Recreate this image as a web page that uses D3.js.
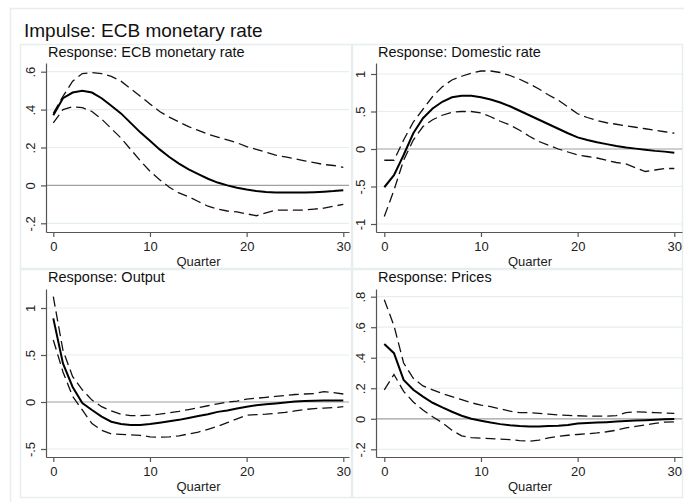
<!DOCTYPE html>
<html lang="en">
<head>
    <meta charset="UTF-8">
    <title>Impulse: ECB monetary rate</title>
    <style>
        body { margin: 0; background: #fff; }
        svg { display: block; font-family: "Liberation Sans", Arial, sans-serif; }
    </style>
</head>
<body>
    <div id="chart"></div>
    <script src="https://cdnjs.cloudflare.com/ajax/libs/d3/7.8.5/d3.min.js"></script>
    <script>
        // quarters after the impulse
        const quarters = [0,1,2,3,4,5,6,7,8,9,10,11,12,13,14,15,16,17,18,19,20,21,22,23,24,25,26,27,28,29,30];
        const xTicks = [0, 10, 20, 30];

        // Response: ECB monetary rate
        const ecbIrf = [0.37,0.46,0.49,0.50,0.49,0.46,0.42,0.38,0.33,0.28,0.235,0.19,0.15,0.115,0.085,0.06,0.035,0.015,0.0,-0.012,-0.022,-0.03,-0.035,-0.037,-0.038,-0.038,-0.038,-0.036,-0.033,-0.03,-0.025];
        const ecbHi  = [0.38,0.47,0.55,0.59,0.595,0.59,0.575,0.55,0.51,0.47,0.43,0.39,0.36,0.335,0.31,0.29,0.27,0.255,0.24,0.225,0.205,0.19,0.175,0.16,0.15,0.14,0.13,0.12,0.11,0.105,0.095];
        const ecbLo  = [0.33,0.40,0.415,0.41,0.39,0.35,0.30,0.25,0.19,0.13,0.075,0.03,-0.01,-0.04,-0.06,-0.085,-0.11,-0.125,-0.135,-0.14,-0.15,-0.16,-0.145,-0.13,-0.13,-0.13,-0.13,-0.125,-0.12,-0.11,-0.1];
        const ecbTicks = [-0.2, 0, 0.2, 0.4, 0.6];
        const ecbLabels = ["-.2", "0", ".2", ".4", ".6"];

        // Response: Domestic rate
        const domIrf = [-0.51,-0.35,-0.08,0.21,0.41,0.54,0.63,0.69,0.71,0.71,0.69,0.66,0.62,0.57,0.51,0.45,0.39,0.33,0.27,0.21,0.155,0.12,0.09,0.065,0.04,0.02,0.005,-0.01,-0.025,-0.035,-0.05];
        const domHi  = [-0.15,-0.15,0.12,0.36,0.53,0.70,0.83,0.92,0.97,1.01,1.04,1.04,1.02,0.98,0.93,0.87,0.80,0.72,0.65,0.56,0.47,0.42,0.38,0.35,0.33,0.31,0.29,0.27,0.25,0.23,0.21];
        const domLo  = [-0.9,-0.55,-0.15,0.12,0.30,0.39,0.45,0.49,0.50,0.50,0.48,0.43,0.37,0.32,0.25,0.17,0.10,0.05,0.0,-0.04,-0.08,-0.10,-0.12,-0.15,-0.18,-0.20,-0.25,-0.30,-0.28,-0.26,-0.26];
        const domTicks = [-1, -0.5, 0, 0.5, 1];
        const domLabels = ["-1", "-.5", "0", ".5", "1"];

        // Response: Output
        const outIrf = [0.89,0.41,0.16,-0.01,-0.085,-0.155,-0.21,-0.235,-0.245,-0.245,-0.235,-0.22,-0.205,-0.19,-0.17,-0.15,-0.13,-0.105,-0.09,-0.07,-0.05,-0.035,-0.025,-0.015,-0.005,0.005,0.01,0.012,0.015,0.017,0.015];
        const outHi  = [1.12,0.55,0.27,0.13,0.02,-0.05,-0.095,-0.13,-0.145,-0.145,-0.14,-0.13,-0.115,-0.10,-0.08,-0.06,-0.04,-0.02,0.0,0.01,0.03,0.04,0.05,0.06,0.07,0.08,0.085,0.09,0.11,0.10,0.085];
        const outLo  = [0.66,0.32,0.06,-0.085,-0.23,-0.30,-0.34,-0.345,-0.35,-0.355,-0.37,-0.375,-0.37,-0.36,-0.34,-0.32,-0.29,-0.26,-0.22,-0.18,-0.14,-0.135,-0.13,-0.12,-0.11,-0.095,-0.08,-0.07,-0.065,-0.06,-0.05];
        const outTicks = [-0.5, 0, 0.5, 1];
        const outLabels = ["-.5", "0", ".5", "1"];

        // Response: Prices
        const priIrf = [0.49,0.43,0.255,0.19,0.145,0.105,0.075,0.046,0.02,0.0,-0.013,-0.025,-0.035,-0.043,-0.048,-0.05,-0.05,-0.048,-0.045,-0.04,-0.031,-0.028,-0.025,-0.022,-0.018,-0.015,-0.012,-0.009,-0.006,-0.003,-0.002];
        const priHi  = [0.78,0.61,0.365,0.265,0.215,0.19,0.165,0.145,0.125,0.105,0.09,0.08,0.065,0.05,0.04,0.04,0.035,0.03,0.025,0.022,0.02,0.018,0.017,0.017,0.02,0.04,0.045,0.043,0.04,0.038,0.035];
        const priLo  = [0.19,0.29,0.18,0.11,0.057,0.013,-0.026,-0.075,-0.112,-0.123,-0.127,-0.13,-0.133,-0.137,-0.143,-0.147,-0.14,-0.125,-0.115,-0.108,-0.103,-0.098,-0.093,-0.085,-0.075,-0.06,-0.05,-0.04,-0.03,-0.022,-0.02];
        const priTicks = [-0.2, 0, 0.2, 0.4, 0.6, 0.8];
        const priLabels = ["-.2", "0", ".2", ".4", ".6", ".8"];

        const W = 684, H = 502;
        const frameColor = "#e6eef0";
        const gridColor = "#e6eef0";
        const axisColor = "#555";

        const svg = d3.select("#chart").append("svg")
            .attr("width", W)
            .attr("height", H);

        // outer graph region
        svg.append("rect")
            .attr("x", 10.5).attr("y", 8.5)
            .attr("width", 700).attr("height", 520)
            .attr("fill", "none")
            .attr("stroke", frameColor)
            .attr("stroke-width", 1.5);

        svg.append("text")
            .attr("x", 24).attr("y", 37)
            .attr("font-size", 19)
            .attr("fill", "#111")
            .text("Impulse: ECB monetary rate");

        const panels = [
            { title: "Response: ECB monetary rate", irf: ecbIrf, lo: ecbLo, hi: ecbHi, ticks: ecbTicks, labels: ecbLabels,
              box: [20, 44, 331, 224], xl: 46, xr: 349, x0: 53.3, x30: 343.3, yt: 63, yb: 232, yTickPx: [223.3, 71.7] },
            { title: "Response: Domestic rate", irf: domIrf, lo: domLo, hi: domHi, ticks: domTicks, labels: domLabels,
              box: [352, 44, 330, 224], xl: 376, xr: 682, x0: 384.3, x30: 674.3, yt: 63, yb: 232, yTickPx: [224, 74] },
            { title: "Response: Output", irf: outIrf, lo: outLo, hi: outHi, ticks: outTicks, labels: outLabels,
              box: [20, 269, 331, 228], xl: 46, xr: 349, x0: 53.3, x30: 343.3, yt: 289, yb: 457, yTickPx: [449, 308] },
            { title: "Response: Prices", irf: priIrf, lo: priLo, hi: priHi, ticks: priTicks, labels: priLabels,
              box: [352, 269, 330, 228], xl: 376, xr: 682, x0: 384.3, x30: 674.3, yt: 289, yb: 457, yTickPx: [449.3, 296.7] }
        ];

        panels.forEach(function (p) {
            const g = svg.append("g");

            g.append("rect")
                .attr("x", p.box[0] + 0.5).attr("y", p.box[1] + 0.5)
                .attr("width", p.box[2]).attr("height", p.box[3])
                .attr("fill", "none")
                .attr("stroke", frameColor)
                .attr("stroke-width", 1.5);

            // scales: fix by tick positions, then stretch to plot region
            const xFit = d3.scaleLinear().domain([0, 30]).range([p.x0, p.x30]);
            const x = d3.scaleLinear()
                .domain([xFit.invert(p.xl), xFit.invert(p.xr)])
                .range([p.xl, p.xr]);
            const tMin = d3.min(p.ticks), tMax = d3.max(p.ticks);
            const yFit = d3.scaleLinear().domain([tMin, tMax]).range(p.yTickPx);
            const y = d3.scaleLinear()
                .domain([yFit.invert(p.yb), yFit.invert(p.yt)])
                .range([p.yb, p.yt]);

            // gridlines
            g.append("g").selectAll("line")
                .data(p.ticks.filter(function (t) { return t !== 0; }))
                .enter().append("line")
                .attr("x1", p.xl).attr("x2", p.xr)
                .attr("y1", function (d) { return y(d); })
                .attr("y2", function (d) { return y(d); })
                .attr("stroke", gridColor)
                .attr("stroke-width", 1.2);

            // zero line
            g.append("line")
                .attr("x1", p.xl).attr("x2", p.xr)
                .attr("y1", y(0)).attr("y2", y(0))
                .attr("stroke", "#a0a0a0")
                .attr("stroke-width", 1.2);

            const line = d3.line()
                .x(function (d, i) { return x(quarters[i]); })
                .y(function (d) { return y(d); });

            [p.hi, p.lo].forEach(function (s) {
                g.append("path")
                    .datum(s)
                    .attr("d", line)
                    .attr("fill", "none")
                    .attr("stroke", "#111")
                    .attr("stroke-width", 1.3)
                    .attr("stroke-dasharray", "10,5");
            });

            g.append("path")
                .datum(p.irf)
                .attr("d", line)
                .attr("fill", "none")
                .attr("stroke", "#000")
                .attr("stroke-width", 2);

            // axes
            const yAxis = g.append("g")
                .attr("transform", "translate(" + p.xl + ",0)")
                .call(d3.axisLeft(y)
                    .tickValues(p.ticks)
                    .tickFormat(function (d, i) { return p.labels[i]; })
                    .tickSize(5)
                    .tickSizeOuter(0));
            yAxis.select(".domain").attr("stroke", axisColor).attr("stroke-width", 1.2);
            yAxis.selectAll(".tick line").attr("stroke", axisColor).attr("stroke-width", 1.2);
            yAxis.selectAll(".tick text")
                .attr("font-size", 13)
                .attr("fill", "#222")
                .attr("font-family", "Liberation Sans, Arial, sans-serif")
                .attr("x", null).attr("dy", null)
                .attr("text-anchor", "middle")
                .attr("transform", "translate(-11,0) rotate(-90)");

            const xAxis = g.append("g")
                .attr("transform", "translate(0," + p.yb + ")")
                .call(d3.axisBottom(x)
                    .tickValues(xTicks)
                    .tickSize(5)
                    .tickSizeOuter(0));
            xAxis.select(".domain").attr("stroke", axisColor).attr("stroke-width", 1.2);
            xAxis.selectAll(".tick line").attr("stroke", axisColor).attr("stroke-width", 1.2);
            xAxis.selectAll(".tick text")
                .attr("font-size", 13)
                .attr("fill", "#222")
                .attr("font-family", "Liberation Sans, Arial, sans-serif")
                .attr("y", 10);

            g.append("text")
                .attr("x", (p.xl + p.xr) / 2 + 1)
                .attr("y", p.yb + 34)
                .attr("text-anchor", "middle")
                .attr("font-size", 13)
                .attr("fill", "#222")
                .text("Quarter");

            g.append("text")
                .attr("x", p.xl + 2)
                .attr("y", p.box[1] + 13)
                .attr("font-size", 14.5)
                .attr("fill", "#111")
                .text(p.title);
        });
    </script>
</body>
</html>
